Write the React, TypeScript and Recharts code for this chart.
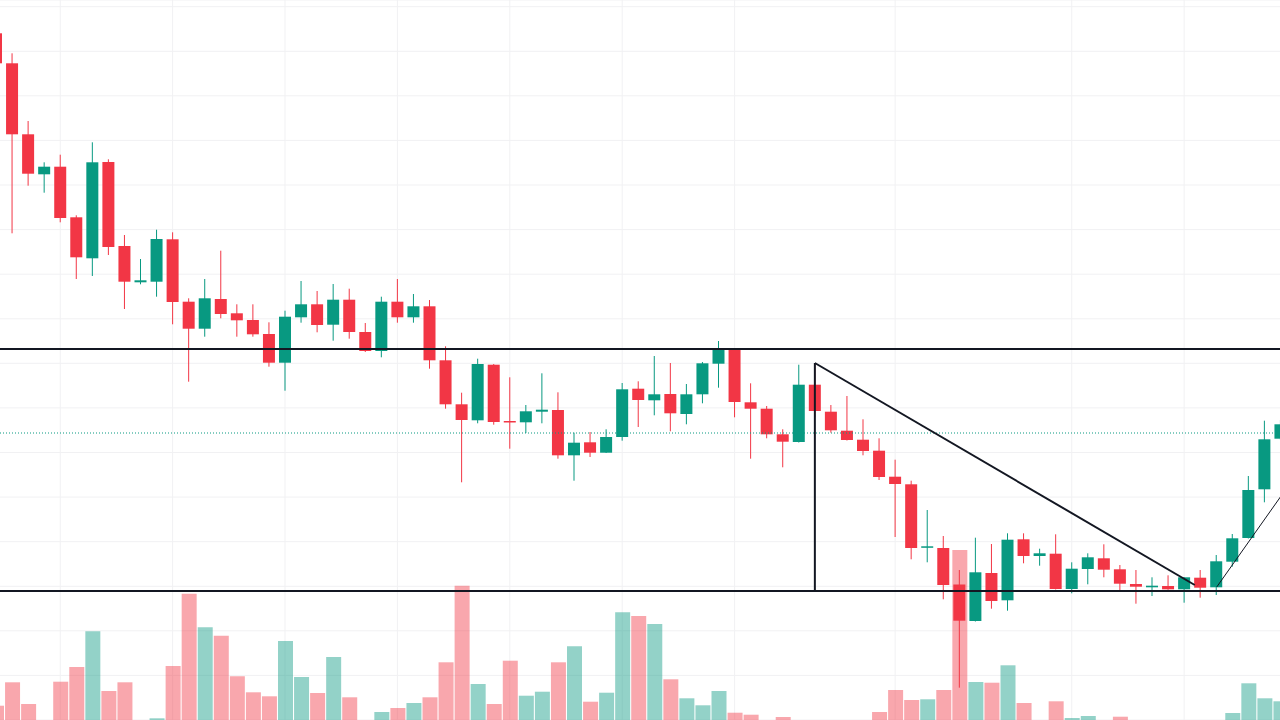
import React from 'react';
import {
  ComposedChart,
  Bar,
  Cell,
  XAxis,
  YAxis,
  CartesianGrid,
  ReferenceLine,
} from 'recharts';

const UP = '#089981';
const DOWN = '#f23645';
const UP_VOL = 'rgba(8,153,129,0.44)';
const DOWN_VOL = 'rgba(242,54,69,0.44)';
const INK = '#131722';

// OHLC per session (oldest first)
const opens = [
  68.67, 65.67, 58.57, 54.57, 55.33, 50.27, 46.17, 55.8, 47.4, 43.77,
  43.83, 48.07, 41.83, 39.13, 42.1, 40.67, 40.0, 38.6, 35.73, 40.27,
  41.57, 39.53, 42.03, 38.8, 36.9, 41.83, 40.27, 41.37, 35.97, 31.57,
  29.97, 35.53, 29.9, 29.77, 30.83, 31.0, 26.47, 27.77, 26.73, 28.3,
  33.13, 31.97, 32.6, 30.6, 32.57, 35.63, 37.17, 31.77, 31.13, 28.57,
  27.8, 33.53, 30.83, 28.93, 28.03, 26.93, 24.33, 23.57, 17.23, 17.2,
  13.55, 9.9, 14.7, 11.97, 18.07, 16.4, 16.63, 13.1, 15.1, 16.17,
  15.07, 13.6, 13.27, 13.4, 13.07, 14.23, 13.27, 15.83, 18.2, 23.07,
  28.13,
];
const highs = [
  69.5, 66.67, 59.9, 55.77, 56.53, 50.47, 57.77, 56.07, 48.5, 46.1,
  49.03, 48.77, 42.17, 44.1, 46.93, 41.57, 41.57, 39.77, 40.93, 43.9,
  42.9, 43.6, 43.13, 39.7, 42.33, 44.1, 42.6, 42.0, 37.37, 32.73,
  36.13, 35.6, 34.27, 31.5, 34.67, 32.77, 28.73, 28.8, 29.07, 33.7,
  33.87, 36.4, 35.7, 33.6, 35.8, 37.9, 37.2, 33.67, 31.4, 29.07,
  35.53, 35.67, 31.5, 32.4, 30.07, 28.17, 26.03, 23.93, 21.0, 18.4,
  15.0, 18.23, 17.6, 18.67, 18.67, 17.13, 18.57, 15.77, 16.67, 17.57,
  15.5, 15.0, 14.27, 14.47, 14.3, 15.0, 16.5, 18.6, 24.4, 29.93,
  30.0,
];
const lows = [
  65.0, 48.67, 53.43, 52.73, 49.77, 44.1, 44.4, 46.5, 41.1, 43.57,
  42.33, 39.57, 33.83, 38.33, 40.17, 38.33, 38.33, 35.33, 32.93, 39.73,
  38.77, 37.93, 38.13, 36.8, 36.27, 39.73, 39.73, 35.13, 31.13, 23.77,
  29.67, 29.53, 27.13, 28.7, 29.67, 26.13, 23.93, 26.3, 26.7, 27.93,
  29.3, 30.47, 28.87, 29.57, 31.67, 33.23, 30.27, 26.13, 28.17, 25.27,
  27.75, 30.27, 28.73, 27.95, 26.47, 24.0, 18.3, 16.07, 15.77, 12.07,
  3.23, 9.85, 11.13, 10.93, 15.67, 15.43, 13.05, 12.67, 13.57, 14.27,
  12.8, 11.63, 12.4, 13.02, 11.73, 12.23, 12.5, 15.33, 18.15, 21.77,
  28.0,
];
const closes = [
  65.67, 58.57, 54.63, 55.33, 50.2, 46.27, 55.77, 47.3, 43.83, 43.97,
  48.1, 41.8, 39.13, 42.17, 40.6, 39.97, 38.57, 35.73, 40.33, 41.57,
  39.5, 42.03, 38.8, 36.9, 41.83, 40.27, 41.37, 35.97, 31.57, 30.0,
  35.6, 29.8, 29.8, 30.87, 31.03, 26.47, 27.73, 26.73, 28.3, 33.07,
  32.0, 32.57, 30.67, 32.57, 35.67, 37.17, 31.8, 31.13, 28.57, 27.83,
  33.53, 30.9, 28.97, 28.0, 26.9, 24.3, 23.6, 17.2, 17.37, 13.5,
  9.93, 14.77, 11.9, 18.03, 16.4, 16.67, 13.1, 15.13, 16.27, 15.03,
  13.63, 13.33, 13.43, 13.07, 14.27, 13.23, 15.87, 18.17, 23.0, 28.07,
  29.57,
];
const volumes = [
  143, 377, 160, 0, 383, 530, 887, 290, 377, 0,
  17, 540, 1263, 927, 843, 437, 277, 237, 790, 430,
  270, 630, 227, 0, 80, 120, 170, 227, 577, 1343,
  360, 160, 593, 243, 283, 577, 737, 183, 273, 1077,
  1040, 960, 407, 217, 147, 290, 73, 53, 0, 30,
  0, 0, 0, 0, 0, 80, 300, 200, 207, 300,
  1700, 380, 373, 547, 170, 0, 187, 20, 40, 0,
  33, 0, 0, 0, 0, 0, 0, 70, 367, 217,
  187,
];

// grid
const gridPrices = [0, 4.46, 8.92, 13.37, 17.83, 22.29, 26.75, 31.21, 35.67, 40.12, 44.58, 49.04, 53.5, 57.96, 62.42, 66.87, 71.33];
const gridSessions = [4, 11, 18, 25, 32, 39, 46, 56, 67, 74];

// drawings
const supportTop = 37.1;
const supportBottom = 12.9;
const lastPriceLine = 28.7;

const data = opens.map((o, i) => ({
  t: i,
  o,
  h: highs[i],
  l: lows[i],
  c: closes[i],
  v: volumes[i] || null,
}));

const CHART_W = 1300.5;
const HALF_BAND = CHART_W / data.length / 2;

const Candle = (props: any) => {
  const { x, y, width, height, payload } = props;
  const { o, h, l, c } = payload;
  const top = Math.min(y, y + height);
  const k = h - l > 0 ? Math.abs(height) / (h - l) : 0;
  const py = (v: number) => top + (h - v) * k;
  const col = c >= o ? UP : DOWN;
  const bt = py(Math.max(o, c));
  const bb = py(Math.min(o, c));
  const cx = x + width / 2;
  return (
    <g>
      <line x1={cx} x2={cx} y1={py(h)} y2={py(l)} stroke={col} strokeWidth={1} />
      <rect x={x} y={bt} width={width} height={Math.max(bb - bt, 1.5)} fill={col} />
    </g>
  );
};

export default function App() {
  return (
    <div
      style={{
        position: 'fixed',
        left: 0,
        top: 0,
        width: 1280,
        height: 720,
        overflow: 'hidden',
        background: '#ffffff',
      }}
    >
      <div style={{ position: 'absolute', left: -11.78, top: 0 }}>
        <ComposedChart
          width={CHART_W}
          height={720}
          data={data}
          margin={{ top: 0, right: 0, bottom: 0, left: 0 }}
        >
          <XAxis xAxisId="c" dataKey="t" hide />
          <XAxis xAxisId="v" dataKey="t" hide />
          <XAxis
            xAxisId="d"
            dataKey="t"
            type="number"
            domain={['dataMin', 'dataMax']}
            padding={{ left: HALF_BAND, right: HALF_BAND }}
            ticks={gridSessions}
            allowDataOverflow
            hide
          />
          <YAxis yAxisId="p" domain={[0, 72]} ticks={gridPrices} allowDataOverflow hide />
          <YAxis yAxisId="v" domain={[0, 7200]} allowDataOverflow hide />
          <CartesianGrid xAxisId="d" yAxisId="p" stroke="#f1f1f3" />
          <Bar xAxisId="v" yAxisId="v" dataKey="v" barSize={15} isAnimationActive={false}>
            {data.map((d, i) => (
              <Cell key={i} fill={d.c >= d.o ? UP_VOL : DOWN_VOL} />
            ))}
          </Bar>
          <Bar
            xAxisId="c"
            yAxisId="p"
            dataKey={(d: any) => [d.l, d.h]}
            barSize={12}
            shape={<Candle />}
            isAnimationActive={false}
          />
          <ReferenceLine
            xAxisId="d"
            yAxisId="p"
            y={lastPriceLine}
            stroke={UP}
            strokeDasharray="1 2"
          />
          <ReferenceLine xAxisId="d" yAxisId="p" y={supportTop} stroke={INK} strokeWidth={2} />
          <ReferenceLine xAxisId="d" yAxisId="p" y={supportBottom} stroke={INK} strokeWidth={2} />
          <ReferenceLine
            xAxisId="d"
            yAxisId="p"
            segment={[{ x: 51, y: 35.7 }, { x: 51, y: supportBottom }]}
            stroke={INK}
            strokeWidth={2}
          />
          <ReferenceLine
            xAxisId="d"
            yAxisId="p"
            segment={[{ x: 51, y: 35.7 }, { x: 74.66, y: 13.5 }]}
            stroke={INK}
            strokeWidth={2}
          />
          <ReferenceLine
            xAxisId="d"
            yAxisId="p"
            ifOverflow="visible"
            segment={[{ x: 76.03, y: 13.3 }, { x: 80.5, y: 23.45 }]}
            stroke={INK}
            strokeWidth={1}
          />
        </ComposedChart>
      </div>
    </div>
  );
}
